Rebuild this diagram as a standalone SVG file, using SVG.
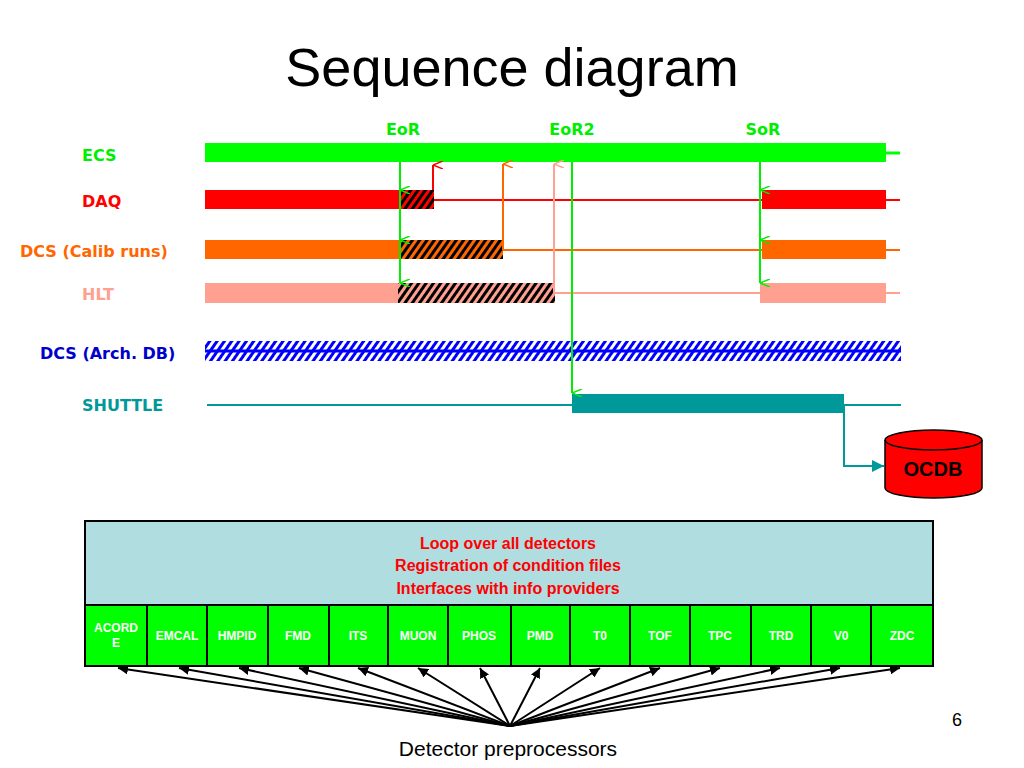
<svg xmlns="http://www.w3.org/2000/svg" width="1024" height="768" viewBox="0 0 1024 768">
<defs>
<pattern id="hk" width="6" height="6" patternUnits="userSpaceOnUse" patternTransform="rotate(35)"><rect width="6" height="6" fill="none"/><rect width="3" height="6" fill="#000"/></pattern>
<pattern id="hb" width="6" height="6" patternUnits="userSpaceOnUse" patternTransform="rotate(35)"><rect width="3" height="6" fill="#0000ff"/></pattern>
<marker id="ag" markerWidth="8" markerHeight="10" refX="4" refY="10" orient="auto-start-reverse" markerUnits="userSpaceOnUse" viewBox="0 0 8 10"><path d="M0,0 L4,10 L8,0" fill="none" stroke="#00ee00" stroke-width="1.5"/></marker>
<marker id="ar" markerWidth="8" markerHeight="10" refX="4" refY="0" orient="auto" markerUnits="userSpaceOnUse" viewBox="0 0 8 10"><path d="M0,10 L4,0 L8,10" fill="none" stroke="red" stroke-width="1.5"/></marker>
<marker id="ao" markerWidth="8" markerHeight="10" refX="4" refY="0" orient="auto" markerUnits="userSpaceOnUse" viewBox="0 0 8 10"><path d="M0,10 L4,0 L8,10" fill="none" stroke="#ff6600" stroke-width="1.5"/></marker>
<marker id="ap" markerWidth="8" markerHeight="10" refX="4" refY="0" orient="auto" markerUnits="userSpaceOnUse" viewBox="0 0 8 10"><path d="M0,10 L4,0 L8,10" fill="none" stroke="#ffa090" stroke-width="1.5"/></marker>
<marker id="ak" markerWidth="10" markerHeight="10" refX="10" refY="5" orient="auto" markerUnits="userSpaceOnUse"><path d="M0,0 L10,5 L0,10 z" fill="#000"/></marker>
<marker id="at" markerWidth="12" markerHeight="12" refX="12" refY="6" orient="auto" markerUnits="userSpaceOnUse"><path d="M0,0 L12,6 L0,12 z" fill="#009999"/></marker>
</defs>
<style>
.lb{font-family:"DejaVu Sans",sans-serif;font-weight:bold;font-size:16px}
.cl{font-family:"Liberation Sans",Arial,sans-serif;font-weight:bold;font-size:12px;fill:#fff;text-anchor:middle}
.bx{font-family:"Liberation Sans",Arial,sans-serif;font-weight:bold;font-size:16px;fill:red;text-anchor:middle}
</style>
<text x="512" y="86" font-family="Liberation Sans,Arial,sans-serif" font-size="54" text-anchor="middle">Sequence diagram</text>
<g id="labels">
<text class="lb" x="82" y="161" fill="#00ee00">ECS</text>
<text class="lb" x="82" y="207" fill="red">DAQ</text>
<text class="lb" x="20" y="257" fill="#ff6600">DCS (Calib runs)</text>
<text class="lb" x="82" y="300" fill="#ffa090">HLT</text>
<text class="lb" x="40" y="359" fill="#0000cc">DCS (Arch. DB)</text>
<text class="lb" x="82" y="411" fill="#009999">SHUTTLE</text>
<text class="lb" x="403" y="135" fill="#00ee00" text-anchor="middle">EoR</text>
<text class="lb" x="572" y="135" fill="#00ee00" text-anchor="middle">EoR2</text>
<text class="lb" x="763" y="135" fill="#00ee00" text-anchor="middle">SoR</text>
</g>
<g id="ECS"><rect x="205" y="143" width="681" height="19" fill="#00ff00"/><line x1="886" y1="153" x2="900" y2="153" stroke="#00ff00" stroke-width="3"/></g>
<g id="DAQ"><line x1="434" y1="200" x2="900" y2="200" stroke="red" stroke-width="2"/><rect x="205" y="190" width="195" height="19" fill="red"/><rect x="400" y="190" width="34" height="19" fill="red"/><rect x="400" y="190" width="34" height="19" fill="url(#hk)"/><rect x="762" y="190" width="124" height="19" fill="red"/></g>
<g id="DCSCalib"><line x1="503" y1="250" x2="900" y2="250" stroke="#ff6600" stroke-width="2"/><rect x="205" y="240" width="195" height="19" fill="#ff6600"/><rect x="400" y="240" width="103" height="19" fill="#ff6600"/><rect x="400" y="240" width="103" height="19" fill="url(#hk)"/><rect x="762" y="240" width="124" height="19" fill="#ff6600"/></g>
<g id="HLT"><line x1="555" y1="293" x2="900" y2="293" stroke="#ffa090" stroke-width="2"/><rect x="205" y="283" width="193" height="20" fill="#ffa090"/><rect x="398" y="283" width="157" height="20" fill="#ffa090"/><rect x="398" y="283" width="157" height="20" fill="url(#hk)"/><rect x="760" y="283" width="126" height="20" fill="#ffa090"/></g>
<g id="DCSArch"><rect x="205" y="341" width="696" height="20" fill="url(#hb)"/><line x1="205" y1="351" x2="901" y2="351" stroke="#0000ff" stroke-width="3"/></g>
<g id="SHUTTLE"><line x1="207" y1="405" x2="901" y2="405" stroke="#009999" stroke-width="2"/><rect x="572" y="394" width="272" height="19" fill="#009999"/></g>
<g id="OCDB"><path d="M885,440 L885,488 A48.5,10 0 0 0 982,488 L982,440" fill="red" stroke="#000" stroke-width="1.5"/><ellipse cx="933.5" cy="440" rx="48.5" ry="10" fill="red" stroke="#000" stroke-width="1.5"/><text x="933" y="476" font-family="Liberation Sans,Arial,sans-serif" font-weight="bold" font-size="20" text-anchor="middle">OCDB</text></g>
<g id="connectors" fill="none">
<g stroke="#00ee00" stroke-width="2">
<line x1="400" y1="162" x2="400" y2="190" marker-end="url(#ag)"/>
<line x1="400" y1="190" x2="400" y2="240" marker-end="url(#ag)"/>
<line x1="400" y1="240" x2="400" y2="283" marker-end="url(#ag)"/>
<line x1="760" y1="162" x2="760" y2="190" marker-end="url(#ag)"/>
<line x1="760" y1="190" x2="760" y2="240" marker-end="url(#ag)"/>
<line x1="760" y1="240" x2="760" y2="283" marker-end="url(#ag)"/>
<line x1="572" y1="162" x2="572" y2="393" marker-end="url(#ag)"/>
</g>
<line x1="433" y1="190" x2="433" y2="165" stroke="red" stroke-width="2" marker-end="url(#ar)"/>
<line x1="503" y1="250" x2="503" y2="164" stroke="#ff6600" stroke-width="2" marker-end="url(#ao)"/>
<line x1="554" y1="293" x2="554" y2="164" stroke="#ffa090" stroke-width="2" marker-end="url(#ap)"/>
<polyline points="844,405 844,466 884,466" stroke="#009999" stroke-width="2" marker-end="url(#at)"/>
<g stroke="#000" stroke-width="2">
<line x1="510" y1="726" x2="118" y2="668" marker-end="url(#ak)"/>
<line x1="510" y1="726" x2="179" y2="668" marker-end="url(#ak)"/>
<line x1="510" y1="726" x2="239" y2="668" marker-end="url(#ak)"/>
<line x1="510" y1="726" x2="299" y2="668" marker-end="url(#ak)"/>
<line x1="510" y1="726" x2="358" y2="668" marker-end="url(#ak)"/>
<line x1="510" y1="726" x2="418" y2="668" marker-end="url(#ak)"/>
<line x1="510" y1="726" x2="480" y2="668" marker-end="url(#ak)"/>
<line x1="510" y1="726" x2="540" y2="668" marker-end="url(#ak)"/>
<line x1="510" y1="726" x2="600" y2="668" marker-end="url(#ak)"/>
<line x1="510" y1="726" x2="660" y2="668" marker-end="url(#ak)"/>
<line x1="510" y1="726" x2="720" y2="668" marker-end="url(#ak)"/>
<line x1="510" y1="726" x2="780" y2="668" marker-end="url(#ak)"/>
<line x1="510" y1="726" x2="840" y2="668" marker-end="url(#ak)"/>
<line x1="510" y1="726" x2="900" y2="668" marker-end="url(#ak)"/>
</g>
</g>
<g id="shuttlebox">
<rect x="85" y="521" width="848" height="145" fill="#b0dde0" stroke="#000" stroke-width="2"/>
<text class="bx" x="508" y="549">Loop over all detectors</text>
<text class="bx" x="508" y="571">Registration of condition files</text>
<text class="bx" x="508" y="594">Interfaces with info providers</text>
<g stroke="#000" stroke-width="2" fill="#00ff00">
<rect x="85" y="605" width="62" height="61"/><rect x="147" y="605" width="60" height="61"/><rect x="207" y="605" width="61" height="61"/><rect x="268" y="605" width="61" height="61"/><rect x="329" y="605" width="59" height="61"/><rect x="388" y="605" width="60" height="61"/><rect x="448" y="605" width="63" height="61"/><rect x="511" y="605" width="59" height="61"/><rect x="570" y="605" width="60" height="61"/><rect x="630" y="605" width="60" height="61"/><rect x="690" y="605" width="61" height="61"/><rect x="751" y="605" width="60" height="61"/><rect x="811" y="605" width="60" height="61"/><rect x="871" y="605" width="62" height="61"/>
</g>
<text class="cl" x="116" y="632">ACORD</text><text class="cl" x="116" y="647">E</text>
<text class="cl" x="177" y="640">EMCAL</text><text class="cl" x="237" y="640">HMPID</text><text class="cl" x="298" y="640">FMD</text><text class="cl" x="358" y="640">ITS</text><text class="cl" x="418" y="640">MUON</text><text class="cl" x="479" y="640">PHOS</text><text class="cl" x="540" y="640">PMD</text><text class="cl" x="600" y="640">T0</text><text class="cl" x="660" y="640">TOF</text><text class="cl" x="720" y="640">TPC</text><text class="cl" x="781" y="640">TRD</text><text class="cl" x="841" y="640">V0</text><text class="cl" x="902" y="640">ZDC</text>
</g>
<text x="508" y="756" font-family="Liberation Sans,Arial,sans-serif" font-size="21" text-anchor="middle">Detector preprocessors</text>
<text x="957" y="726" font-family="Liberation Sans,Arial,sans-serif" font-size="18" text-anchor="middle">6</text>
</svg>
